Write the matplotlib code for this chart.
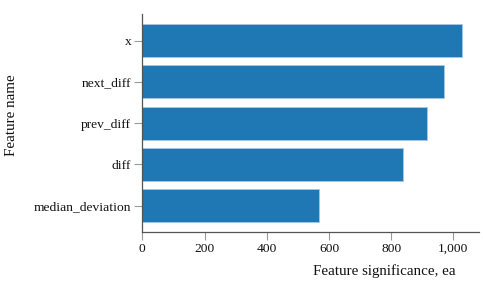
import matplotlib
matplotlib.use("Agg")
import matplotlib.pyplot as plt
from matplotlib.ticker import FuncFormatter

features = ["x", "next_diff", "prev_diff", "diff", "median_deviation"]
significance = [1028, 970, 915, 838, 567]
xticks = [0, 200, 400, 600, 800, 1000]

plt.rcParams['font.family'] = ['Liberation Serif', 'DejaVu Serif']

fig = plt.figure(figsize=(4.83, 2.84), dpi=100)
ax = fig.add_axes([142.3/483, 52/284, (479-142.3)/483, (232-14.3)/284])

pos = list(range(len(features)))
ax.barh(pos, significance, height=0.8, color="#1f77b4", edgecolor="#a9c8e4", linewidth=0.6)
ax.set_ylim(len(features) - 1 + 0.64, -0.64)
ax.set_xlim(0, 1082)
ax.set_yticks(pos)
ax.set_yticklabels(features)
ax.set_xticks(xticks)
ax.xaxis.set_major_formatter(FuncFormatter(lambda v, p: f"{int(v):,}"))

for s in ["top", "right"]:
    ax.spines[s].set_visible(False)
for s in ["left", "bottom"]:
    ax.spines[s].set_color("#555555")
    ax.spines[s].set_linewidth(0.9)
ax.tick_params(axis="both", direction="out", length=6, width=0.8, color="#999999",
               labelsize=9.7, labelcolor="#111111", pad=2)

fig.text(12/483, 1 - 115/284, "Feature name", rotation=90, ha="center", va="center",
         fontsize=10.8, color="#111111")
fig.text(456/483, 1 - 271/284, "Feature significance, ea", ha="right", va="center",
         fontsize=10.8, color="#111111")

fig.savefig("out.png", dpi=100)
